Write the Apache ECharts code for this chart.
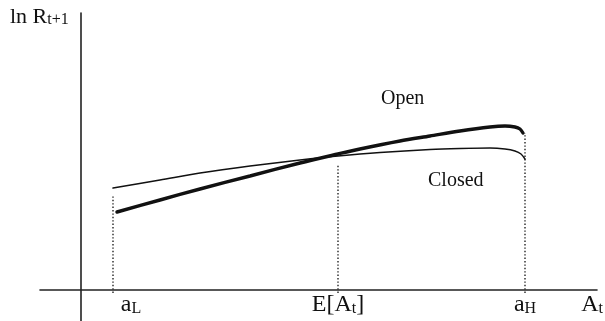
<!DOCTYPE html>
<html>
<head>
<meta charset="utf-8">
<script src="https://cdn.jsdelivr.net/npm/echarts@6/dist/echarts.min.js"></script>
<style>
  html, body { margin: 0; padding: 0; background: #fff; }
  #chart { width: 605px; height: 321px; }
</style>
</head>
<body>
<div id="chart"></div>
<script>
// Return on capital against the state A_t, open vs. closed economy
const openX   = [3.6, 7.9, 11.9, 16.9, 21.9, 25.7, 27.9, 31.9, 34.9, 37.9, 40.9, 42.4, 43.4, 43.9, 44.2];
const openY   = [7.8, 9.0, 10.1, 11.4, 12.7, 13.6, 14.1, 14.9, 15.4, 15.9, 16.3, 16.4, 16.3, 16.1, 15.7];
const closedX = [3.2, 7.9, 11.9, 16.9, 21.9, 25.7, 29.9, 34.9, 37.9, 40.9, 42.4, 43.4, 44.0, 44.4];
const closedY = [10.2, 11.0, 11.7, 12.4, 13.0, 13.4, 13.75, 14.05, 14.15, 14.2, 14.1, 13.9, 13.6, 13.1];

// Guide lines at a_L, E[A_t], a_H
const guideX    = [3.2, 25.7, 44.4];
const guideTop  = [9.5, 12.6, 15.7];
const guideBase = -0.3;
const tickLabels = ['{mp|a}{s|L}', '{m|E[A}{s|t}{m|]}', '{m|a}{s|H}'];

const serif = '"Liberation Serif", "Times New Roman", serif';
const labelRich = {
  m: { fontFamily: serif, fontSize: 24, lineHeight: 24, color: '#111', fontWeight: 'normal' },
  s: { fontFamily: serif, fontSize: 16, lineHeight: 3, verticalAlign: 'bottom', color: '#111', fontWeight: 'normal' },
  mp: { fontFamily: serif, fontSize: 24, lineHeight: 24, color: '#111', fontWeight: 'normal', padding: [0, 0, 0, 36] }
};

const zip = (xs, ys) => xs.map((x, i) => [x, ys[i]]);

const guideSeries = guideX.map((x, i) => ({
  type: 'line',
  data: [[x, guideBase], [x, guideTop[i]]],
  symbol: 'none',
  silent: true,
  lineStyle: { color: '#222', width: 1.4, type: [1.4, 2] },
  z: 1
}));

// Labels under the horizontal axis, one per guide line
const tickLabelSeries = {
  type: 'scatter',
  data: guideX.map((x) => [x, 0]),
  symbol: 'circle',
  symbolSize: 0,
  silent: true,
  itemStyle: { opacity: 1, color: '#111' },
  label: {
    show: true,
    position: 'bottom',
    distance: 3,
    formatter: (p) => tickLabels[p.dataIndex],
    rich: labelRich
  },
  z: 4
};

const chart = echarts.init(document.getElementById('chart'), null, { renderer: 'canvas' });
chart.setOption({
  animation: false,
  backgroundColor: '#fff',
  title: {
    text: '{m|ln R}{s|t+1}',
    left: 10,
    top: 6,
    padding: 0,
    textStyle: {
      fontWeight: 'normal',
      rich: {
        m: { fontFamily: serif, fontSize: 22, lineHeight: 22, color: '#111', fontWeight: 'normal' },
        s: { fontFamily: serif, fontSize: 16, lineHeight: 3, verticalAlign: 'bottom', color: '#111', fontWeight: 'normal' }
      }
    }
  },
  grid: { left: 40, right: 8, top: 13, bottom: 0, containLabel: false, outerBoundsMode: 'none' },
  xAxis: {
    type: 'value',
    min: -4.1,
    max: 51.6,
    splitLine: { show: false },
    axisTick: { show: false },
    axisLabel: { show: false },
    axisLine: { onZero: true, lineStyle: { color: '#222', width: 1.6 } },
    name: '{m|A}{s|t}',
    nameLocation: 'end',
    nameGap: 6,
    nameTextStyle: { align: 'right', verticalAlign: 'top', padding: [3, 0, 0, 0], rich: labelRich }
  },
  yAxis: {
    type: 'value',
    min: -3.1,
    max: 27.7,
    splitLine: { show: false },
    axisTick: { show: false },
    axisLabel: { show: false },
    axisLine: { onZero: true, lineStyle: { color: '#222', width: 1.6 } }
  },
  graphic: [
    { type: 'text', left: 381, top: 89, style: { text: 'Open', font: '20px ' + serif, fill: '#111' } },
    { type: 'text', left: 428, top: 171, style: { text: 'Closed', font: '20px ' + serif, fill: '#111' } }
  ],
  series: [
    {
      name: 'Open',
      type: 'line',
      data: zip(openX, openY),
      symbol: 'none',
      smooth: 0.3,
      lineStyle: { color: '#111', width: 3.4, cap: 'round' },
      z: 3
    },
    {
      name: 'Closed',
      type: 'line',
      data: zip(closedX, closedY),
      symbol: 'none',
      smooth: 0.3,
      lineStyle: { color: '#111', width: 1.5, cap: 'round' },
      z: 2
    },
    ...guideSeries,
    tickLabelSeries
  ]
});
</script>
</body>
</html>
